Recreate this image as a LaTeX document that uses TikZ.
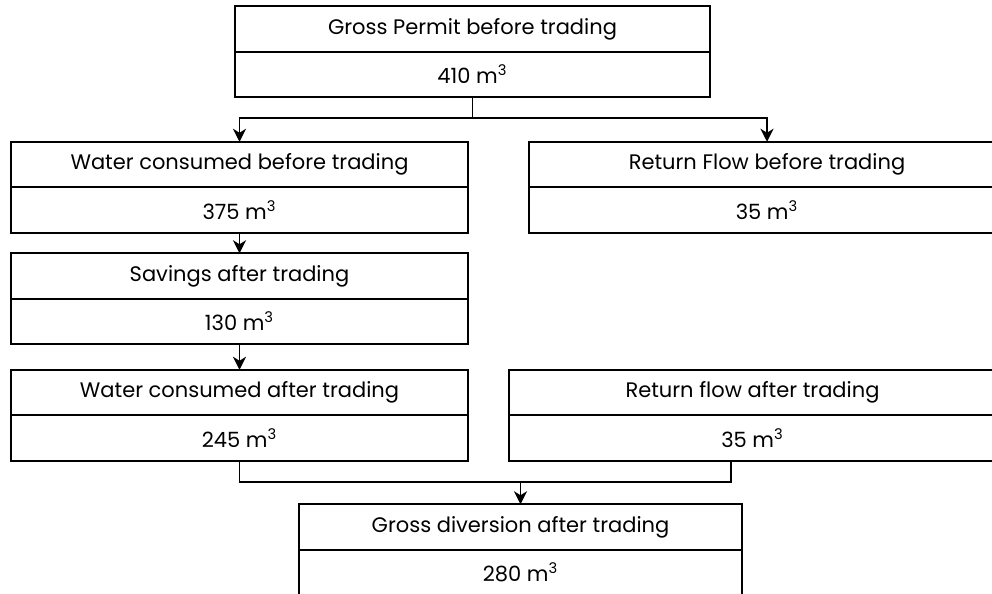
\documentclass[tikz,border=0pt]{standalone}
\usepackage{fontspec}
\setmainfont{Poppins}
\usepackage{tikz}
\usetikzlibrary{positioning,arrows.meta}

\begin{document}
\begin{tikzpicture}[x=0.5pt, y=-0.5pt,
		cell/.style={draw, line width=1pt, inner sep=0pt, outer sep=0pt,
			minimum height=22.75pt, font=\fontsize{10.5}{12}\selectfont},
		flow/.style={line width=0.75pt, -{Stealth[length=6.5pt,width=6.5pt,inset=2pt]}},
		link/.style={line width=0.75pt}]
				\useasboundingbox (0,0) rectangle (992,594);
				
				% Top box
				\node[cell, minimum width=237.5pt] (gpt) at (472.5,29) {Gross Permit before trading};
				\node[cell, minimum width=237.5pt, below=0pt of gpt] (gpv) {410 m\textsuperscript{3}};
				
				% Left column
				\node[cell, minimum width=228.5pt] (wcbt) at (239.5,164.5) {Water consumed before trading};
				\node[cell, minimum width=228.5pt, below=0pt of wcbt] (wcbv) {375 m\textsuperscript{3}};
				\node[cell, minimum width=228.5pt] (savt) at (239.5,276) {Savings after trading};
				\node[cell, minimum width=228.5pt, below=0pt of savt] (savv) {130 m\textsuperscript{3}};
				\node[cell, minimum width=228.5pt] (wcat) at (239.5,392.5) {Water consumed after trading};
				\node[cell, minimum width=228.5pt, below=0pt of wcat] (wcav) {245 m\textsuperscript{3}};
				
				% Right column
				\node[cell, minimum width=238pt] (rfbt) at (767,164.5) {Return Flow before trading};
				\node[cell, minimum width=238pt, below=0pt of rfbt] (rfbv) {35 m\textsuperscript{3}};
				\node[cell, minimum width=243.5pt] (rfat) at (752.5,392.5) {Return flow after trading};
				\node[cell, minimum width=243.5pt, below=0pt of rfat] (rfav) {35 m\textsuperscript{3}};
				
				% Bottom box
				\node[cell, minimum width=221.5pt] (gdt) at (520.5,527) {Gross diversion after trading};
				\node[cell, minimum width=221.5pt, below=0pt of gdt] (gdv) {280 m\textsuperscript{3}};
				
				% Split and join points
				\coordinate (split) at (472.5,118);
				\coordinate (join) at (520.5,482);
				
				% Arrows
				\draw[link] (gpv) -- (split);
				\draw[flow] (split) -| (wcbt);
				\draw[flow] (split) -| (rfbt);
				\draw[flow] (wcbv) -- (savt);
				\draw[flow] (savv) -- (wcat);
				\draw[link] (wcav.south) |- (join) -| ([xshift=-10.75pt]rfav.south);
				\draw[flow] (join) -- (gdt);
			\end{tikzpicture}
\end{document}
